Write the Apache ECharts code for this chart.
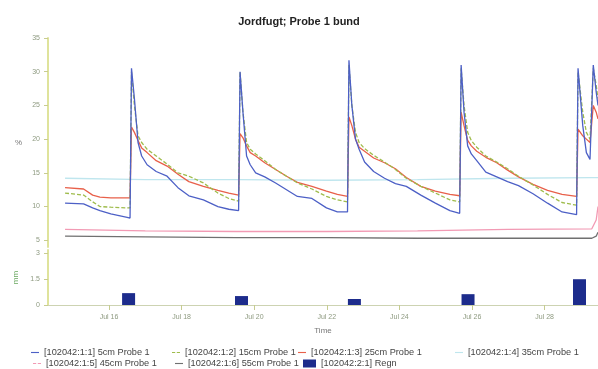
<!DOCTYPE html>
<html>
<head>
<meta charset="utf-8">
<script src="https://cdn.jsdelivr.net/npm/echarts@6/dist/echarts.min.js"></script>
<style>
  html, body { margin: 0; padding: 0; background: #fff; }
  #chart { width: 598px; height: 369px; }
</style>
</head>
<body>
<div id="chart"></div>
<script>
// x values are days of July (decimal)
var times = [
  14.79, 15.30, 15.55, 15.75, 16.05, 16.50, 16.58,
  16.62, 16.70, 16.80, 16.90, 17.05, 17.30, 17.60, 17.90, 18.20, 18.60, 19.00, 19.30, 19.57,
  19.61, 19.69, 19.79, 19.89, 20.04, 20.29, 20.59, 20.89, 21.19, 21.59, 21.99, 22.29, 22.57,
  22.61, 22.69, 22.79, 22.89, 23.04, 23.29, 23.59, 23.89, 24.19, 24.59, 24.99, 25.39, 25.66,
  25.70, 25.78, 25.88, 25.98, 26.13, 26.38, 26.68, 26.98, 27.28, 27.68, 28.08, 28.48, 28.88,
  28.92, 29.05, 29.15, 29.25, 29.30, 29.34, 29.42, 29.47
];
var cm5 = [
  10.5, 10.4, 9.8, 9.4, 8.9, 8.4, 8.3,
  30.5, 26.0, 19.5, 17.5, 16.2, 15.2, 14.5, 12.8, 11.6, 11.0, 10.0, 9.6, 9.4,
  30.0, 24.0, 17.5, 16.2, 15.0, 14.4, 13.5, 12.5, 11.5, 11.2, 9.8, 9.2, 9.2,
  31.7, 25.0, 20.0, 18.5, 16.6, 15.2, 14.2, 13.4, 13.0, 11.7, 10.5, 9.4, 9.0,
  31.0, 24.0, 19.0, 17.8, 16.8, 15.1, 14.4, 13.7, 13.1, 11.9, 10.5, 9.2, 8.8,
  30.5, 22.0, 18.0, 17.0, 17.0, 31.0, 27.0, 25.0
];
var cm15 = [
  12.0, 11.7, 10.7, 10.0, 9.9, 9.8, 9.8,
  30.0, 25.0, 20.5, 19.5, 18.5, 17.5, 16.3, 15.0, 14.5, 13.5, 12.0, 11.2, 10.8,
  30.0, 24.0, 19.5, 18.5, 17.8, 16.8, 15.5, 14.5, 13.5, 12.6, 11.5, 11.0, 10.7,
  31.0, 25.0, 21.0, 19.5, 18.6, 17.6, 16.6, 15.5, 14.2, 13.0, 12.0, 11.0, 10.7,
  30.5, 25.0, 21.0, 19.8, 18.8, 17.5, 16.6, 15.6, 14.5, 13.2, 11.8, 10.6, 10.2,
  30.0, 24.0, 21.0, 20.0, 20.0, 30.5, 28.0, 26.0
];
var cm25 = [
  12.8, 12.6, 11.7, 11.4, 11.3, 11.3, 11.3,
  21.8, 21.0, 19.8, 18.7, 18.0, 16.8, 16.0, 14.8, 13.7, 13.0, 12.4, 12.0, 11.7,
  20.8, 20.2, 19.0, 18.0, 17.5, 16.5, 15.5, 14.5, 13.6, 13.0, 12.3, 11.8, 11.5,
  23.3, 22.0, 20.0, 18.8, 18.2, 17.2, 16.5, 15.6, 14.3, 13.0, 12.3, 11.8, 11.6,
  24.0, 22.0, 19.8, 19.0, 18.2, 17.3, 16.5, 15.4, 14.4, 13.3, 12.4, 11.8, 11.5,
  21.5, 20.5, 20.0, 19.5, 19.5, 25.0, 24.0, 23.0
];
var flatTimes = [14.79, 17.0, 19.5, 22.0, 24.5, 27.0, 29.30, 29.42, 29.47];
var cm35 = [14.2, 14.0, 14.0, 13.9, 14.0, 14.2, 14.3, 14.3, 14.3];
var cm45 = [6.6, 6.4, 6.3, 6.3, 6.4, 6.6, 6.7, 8.0, 10.0];
var cm55 = [5.6, 5.5, 5.4, 5.4, 5.3, 5.3, 5.3, 5.6, 6.2];
var rainTimes = [16.54, 19.65, 22.76, 25.89, 28.96];
var rain = [0.69, 0.52, 0.35, 0.63, 1.5];
var xTicks = [16, 18, 20, 22, 24, 26, 28];
var yTicks = [5, 10, 15, 20, 25, 30, 35];
var rainTicks = [0, 1.5, 3];

var names = [
  '[102042:1:1] 5cm Probe 1', '[102042:1:2] 15cm Probe 1', '[102042:1:3] 25cm Probe 1',
  '[102042:1:4] 35cm Probe 1', '[102042:1:5] 45cm Probe 1', '[102042:1:6] 55cm Probe 1',
  '[102042:2:1] Regn'
];

function pairs(xs, ys) {
  return xs.map(function (x, i) { return [x, ys[i]]; });
}

var chart = echarts.init(document.getElementById('chart'));
var font = 'Liberation Sans, Arial, sans-serif';
var labelStyle = { color: '#8e9a80', fontSize: 7, fontFamily: font };
var solidIcon = 'path://M0,4h10v1.4H0z';
var dashIcon = 'path://M0,4h4v1.4H0z M6,4h4v1.4H6z';

function legendAt(name, left, top, icon, w, h) {
  return {
    data: [{ name: name, icon: icon }], left: left, top: top,
    itemWidth: w || 8, itemHeight: h || 8,
    selectedMode: false, padding: 0, itemGap: 0,
    textStyle: { fontSize: 9.2, color: '#444', fontFamily: font }
  };
}

chart.setOption({
  animation: false,
  title: {
    text: 'Jordfugt; Probe 1 bund', left: 'center', top: 11,
    textStyle: { fontSize: 11, fontWeight: 'bold', color: '#222', fontFamily: font }
  },
  legend: [
    legendAt(names[0], 31, 348, solidIcon), legendAt(names[1], 172, 348, dashIcon),
    legendAt(names[2], 298, 348, solidIcon), legendAt(names[3], 455, 348, solidIcon),
    legendAt(names[4], 33, 359, dashIcon), legendAt(names[5], 175, 359, solidIcon),
    legendAt(names[6], 303, 359, 'rect', 13, 8)
  ],
  grid: [
    { left: 48, right: 0, top: 38, height: 209 },
    { left: 48, right: 0, top: 250, height: 55 }
  ],
  xAxis: [
    { type: 'value', gridIndex: 0, min: 14.32, max: 29.47, show: false },
    {
      type: 'value', gridIndex: 1, min: 14.32, max: 29.47,
      name: 'Time', nameLocation: 'middle', nameGap: 22,
      nameTextStyle: { fontSize: 8, color: '#777', fontFamily: font },
      splitLine: { show: false },
      axisLine: { lineStyle: { color: '#cdd3b2', width: 1 } },
      axisTick: { customValues: xTicks, length: 5, lineStyle: { color: '#c6cc90' } },
      axisLabel: Object.assign({ customValues: xTicks, margin: 9,
        formatter: function (v) { return 'Jul ' + v; } }, labelStyle)
    }
  ],
  yAxis: [
    {
      type: 'value', gridIndex: 0, min: 4, max: 35,
      name: '%', nameLocation: 'middle', nameGap: 26, nameRotate: 0,
      nameTextStyle: { fontSize: 8, color: '#777', fontFamily: font },
      splitLine: { show: false },
      axisLine: { show: true, lineStyle: { color: '#dfe39c', width: 2 } },
      axisTick: { show: true, customValues: yTicks, length: 4, lineStyle: { color: '#c8cc90' } },
      axisLabel: Object.assign({ customValues: yTicks, margin: 8 }, labelStyle)
    },
    {
      type: 'value', gridIndex: 1, min: 0, max: 3.2,
      name: 'mm', nameLocation: 'middle', nameGap: 28, nameRotate: 90,
      nameTextStyle: { fontSize: 8, color: '#6aa860', fontFamily: font },
      splitLine: { show: false },
      axisLine: { show: true, lineStyle: { color: '#dfe39c', width: 2 } },
      axisTick: { show: true, customValues: rainTicks, length: 4, lineStyle: { color: '#c8cc90' } },
      axisLabel: Object.assign({ customValues: rainTicks, margin: 8 }, labelStyle)
    }
  ],
  series: [
    { name: names[5], data: pairs(flatTimes, cm55), color: '#707070' },
    { name: names[4], data: pairs(flatTimes, cm45), color: '#f29ab4' },
    { name: names[3], data: pairs(flatTimes, cm35), color: '#bfe6ee' },
    { name: names[2], data: pairs(times, cm25), color: '#e8604a' },
    { name: names[1], data: pairs(times, cm15), color: '#9fbc4c', dash: [4, 2] },
    { name: names[0], data: pairs(times, cm5), color: '#4d60c6' }
  ].map(function (s) {
    return {
      name: s.name, type: 'line', xAxisIndex: 0, yAxisIndex: 0, symbol: 'none',
      data: s.data, color: s.color,
      lineStyle: { width: 1.3, type: s.dash || 'solid' }
    };
  }).concat([
    {
      name: names[6], type: 'bar', xAxisIndex: 1, yAxisIndex: 1,
      data: pairs(rainTimes, rain), barWidth: 13, color: '#1d2c8c'
    }
  ])
});
</script>
</body>
</html>
